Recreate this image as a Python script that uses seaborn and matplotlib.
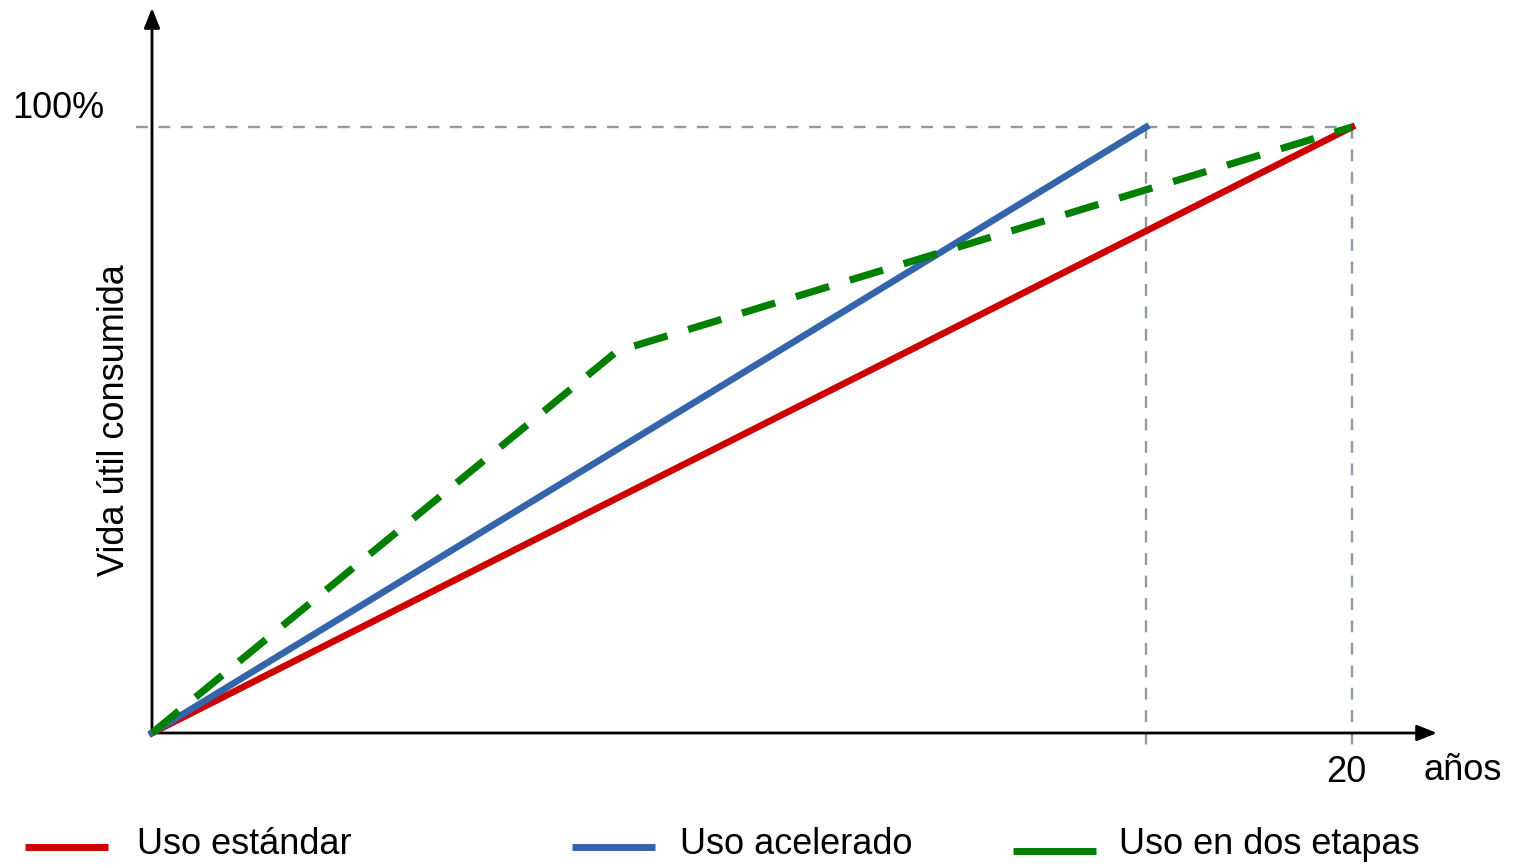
import matplotlib
matplotlib.use("Agg")
import matplotlib.pyplot as plt
from matplotlib.lines import Line2D
import seaborn as sns
import pandas as pd

sns.set_theme(style="white")
plt.rcParams["font.family"] = ["Liberation Sans", "DejaVu Sans"]
plt.rcParams["text.color"] = "black"

# Years and fraction of service life consumed for each usage profile
years_standard = [0, 20]
life_standard = [0, 1.0]

years_accelerated = [0, 16.57]
life_accelerated = [0, 1.0]

years_two_stage = [0, 7.75, 20]
life_two_stage = [0, 0.63, 1.0]

series_names = ["Uso estándar", "Uso acelerado", "Uso en dos etapas"]
series_colors = ["#CC0000", "#3465AA", "#007F00"]

x_tick_label = "20"
y_tick_label = "100%"
x_label = "años"
y_label = "Vida útil consumida"

W, H = 1517, 865
fig = plt.figure(figsize=(W / 100, H / 100), dpi=100)

# axes box in pixels: origin at (152, 733), arrow tips at x=1437 and y=8
x0, y0, x1, y1 = 152, 733, 1437, 8
ax = fig.add_axes([x0 / W, (H - y0) / H, (x1 - x0) / W, (y0 - y1) / H])
px_per_year = 60.0
px_per_unit = 606.0
ax.set_xlim(0, (x1 - x0) / px_per_year)
ax.set_ylim(0, (y0 - y1) / px_per_unit)
for s in ax.spines.values():
    s.set_visible(False)
ax.set_xticks([])
ax.set_yticks([])
ax.patch.set_alpha(0)

# reference guides
guide = dict(color="#8C9BA5", lw=1.7, dashes=(5, 4.5), clip_on=False, zorder=1)
ax.plot([-0.27, 20], [1, 1], **guide)
ax.plot([years_accelerated[-1], years_accelerated[-1]], [1, -0.028], **guide)
ax.plot([20, 20], [1, -0.028], **guide)

# axes with arrow heads
arrow = dict(arrowstyle="-|>,head_length=1.0,head_width=0.4", color="black", lw=2.0,
             shrinkA=0, shrinkB=0)
ax.annotate("", xy=(1, 0), xytext=(0, 0), xycoords="axes fraction",
            textcoords="axes fraction", arrowprops=arrow, zorder=2)
ax.annotate("", xy=(0, 1), xytext=(0, 0), xycoords="axes fraction",
            textcoords="axes fraction", arrowprops=arrow, zorder=2)

df_std = pd.DataFrame({"x": years_standard, "y": life_standard})
df_acc = pd.DataFrame({"x": years_accelerated, "y": life_accelerated})
df_two = pd.DataFrame({"x": years_two_stage, "y": life_two_stage})

sns.lineplot(data=df_std, x="x", y="y", ax=ax, color=series_colors[0], lw=4.8,
             sort=False, zorder=3, clip_on=False, solid_capstyle="projecting")
sns.lineplot(data=df_acc, x="x", y="y", ax=ax, color=series_colors[1], lw=4.8,
             sort=False, zorder=4, clip_on=False, solid_capstyle="projecting")
sns.lineplot(data=df_two, x="x", y="y", ax=ax, color=series_colors[2], lw=5.2,
             sort=False, zorder=5, clip_on=False, dashes=False,
             dash_capstyle="butt", linestyle=(0, (4.8, 3.0)))
ax.set_xlabel("")
ax.set_ylabel("")

fs = 26
fig.text(58 / W, 1 - 108 / H, y_tick_label, fontsize=fs, ha="center", va="center")
fig.text(1346 / W, 1 - 772 / H, x_tick_label, fontsize=fs, ha="center", va="center")
fig.text(1463 / W, 1 - 770 / H, x_label, fontsize=fs, ha="center", va="center")
fig.text(115 / W, 1 - 420 / H, y_label, fontsize=fs, ha="center", va="center",
         rotation=90)

# legend row along the bottom
legend_items = [(25, 108, 847, 137), (572, 655, 847, 680), (1013, 1096, 851, 1119)]
for (lx0, lx1, ly, tx), name, col in zip(legend_items, series_names, series_colors):
    fig.add_artist(Line2D([lx0 / W, lx1 / W], [1 - ly / H, 1 - ly / H],
                          color=col, lw=5.0, solid_capstyle="butt",
                          transform=fig.transFigure))
    fig.text(tx / W, 1 - 845 / H, name, fontsize=fs, ha="left", va="center")

fig.savefig("out.png", dpi=100)
